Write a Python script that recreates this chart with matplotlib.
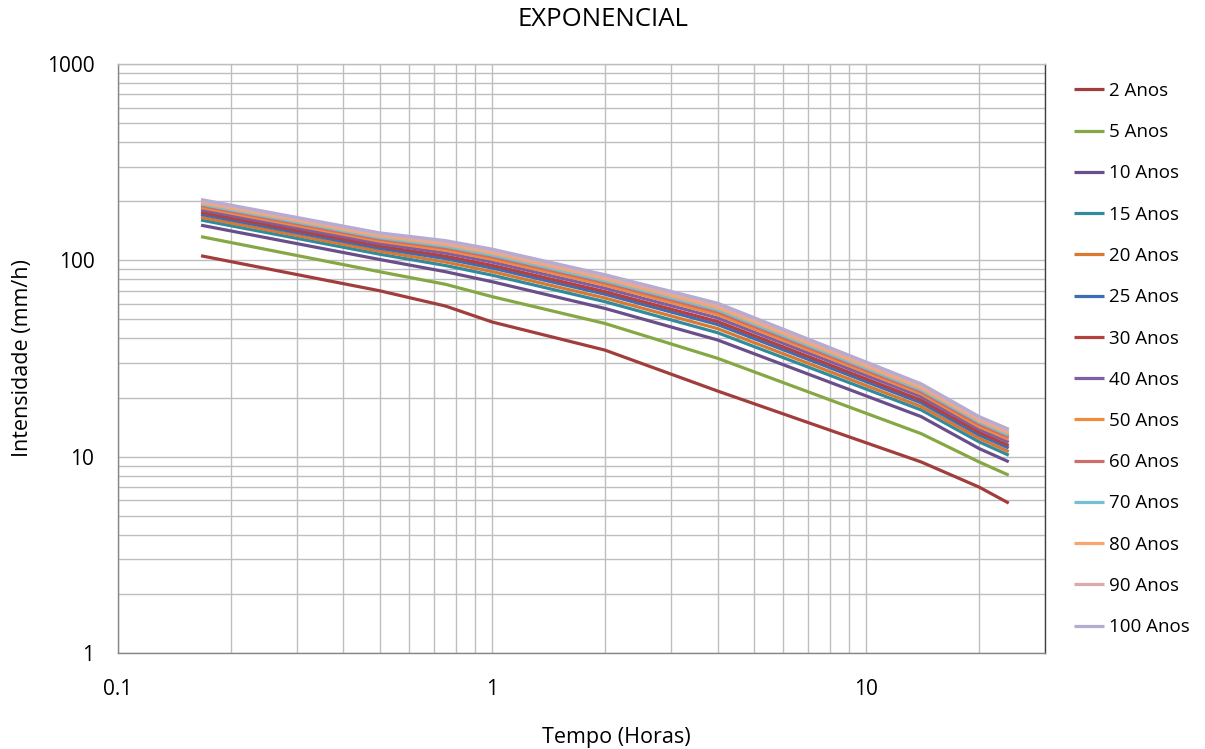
import matplotlib
matplotlib.use("Agg")
import matplotlib.pyplot as plt
from matplotlib.ticker import LogLocator, FixedLocator, FixedFormatter, NullFormatter

plt.rcParams['font.family'] = ['Open Sans', 'DejaVu Sans']

# Duration (hours)
tempo = [1/6, 0.5, 0.75, 1, 2, 4, 14, 20, 24]

labels = ["2 Anos", "5 Anos", "10 Anos", "15 Anos", "20 Anos", "25 Anos", "30 Anos",
          "40 Anos", "50 Anos", "60 Anos", "70 Anos", "80 Anos", "90 Anos", "100 Anos"]

# Intensity (mm/h) per return period
i_2   = [105.5, 70.0, 58.5, 48.5, 34.9, 21.6, 9.4, 7.0, 5.8]
i_5   = [132.0, 87.5, 75.5, 65.3, 47.7, 31.7, 13.1, 9.4, 8.05]
i_10  = [151.0, 101.0, 87.5, 77.8, 56.9, 39.3, 16.0, 11.0, 9.42]
i_15  = [160.4, 107.5, 94.1, 84.0, 61.6, 42.8, 17.3, 11.9, 10.17]
i_20  = [165.8, 111.3, 98.0, 87.6, 64.3, 44.9, 18.0, 12.4, 10.6]
i_25  = [171.4, 115.1, 102.0, 91.3, 67.2, 47.1, 18.8, 12.9, 11.06]
i_30  = [175.5, 118.1, 105.0, 94.2, 69.3, 48.8, 19.4, 13.3, 11.4]
i_40  = [180.9, 121.8, 108.9, 97.9, 72.1, 50.9, 20.2, 13.8, 11.85]
i_50  = [185.9, 125.3, 112.5, 101.3, 74.8, 52.9, 20.9, 14.2, 12.26]
i_60  = [189.8, 128.0, 115.5, 104.0, 76.9, 54.5, 21.4, 14.6, 12.59]
i_70  = [193.3, 130.5, 118.0, 106.4, 78.7, 56.0, 21.9, 15.0, 12.88]
i_80  = [196.8, 132.9, 120.6, 108.9, 80.6, 57.4, 22.4, 15.3, 13.18]
i_90  = [200.4, 135.4, 123.3, 111.4, 82.5, 59.0, 23.0, 15.6, 13.49]
i_100 = [204.0, 138.0, 126.0, 114.0, 84.5, 60.5, 23.5, 16.0, 13.8]

series = [i_2, i_5, i_10, i_15, i_20, i_25, i_30, i_40, i_50, i_60, i_70, i_80, i_90, i_100]

colors = ["#A13D3B", "#86A844", "#6A4E8A", "#318A9E", "#D9782F", "#3D6EB5", "#B5413F",
          "#7E5FA5", "#F08A3C", "#CC6E6C", "#73BFD4", "#F9A66C", "#DDAAAA", "#B6ABD0"]

fig = plt.figure(figsize=(12.05, 7.49), dpi=100)
ax = fig.add_axes([118/1205, 1 - 653/749, (1045 - 118)/1205, (653 - 64)/749])

for vals, lab, col in zip(series, labels, colors):
    ax.plot(tempo, vals, color=col, lw=2.3, label=lab, solid_capstyle='butt', zorder=3)

ax.set_xscale('log')
ax.set_yscale('log')
ax.set_xlim(0.1, 30)
ax.set_ylim(1, 1000)

ax.xaxis.set_major_locator(FixedLocator([0.1, 1, 10]))
ax.xaxis.set_major_formatter(FixedFormatter(["0.1", "1", "10"]))
ax.xaxis.set_minor_locator(LogLocator(base=10, subs=range(2, 10), numticks=20))
ax.xaxis.set_minor_formatter(NullFormatter())
ax.yaxis.set_major_locator(FixedLocator([1, 10, 100, 1000]))
ax.yaxis.set_major_formatter(FixedFormatter(["1", "10", "100", "1000"]))
ax.yaxis.set_minor_locator(LogLocator(base=10, subs=range(2, 10), numticks=20))
ax.yaxis.set_minor_formatter(NullFormatter())

ax.grid(True, which='both', color='#BEBEBE', lw=1.0, zorder=0)
ax.set_axisbelow(True)
ax.tick_params(which='both', length=0, labelsize=15, colors='black')
ax.tick_params(axis='y', pad=17)
ax.tick_params(axis='x', pad=19)
for s in ax.spines.values():
    s.set_color('#868686')
    s.set_linewidth(1.0)
ax.spines['top'].set_color('#BEBEBE')
ax.spines['right'].set_color('#404040')

fig.text(616/1205, 1 - 737/749, "Tempo (Horas)", fontsize=15.5, ha='center', va='center')
ax.set_ylabel("Intensidade (mm/h)", fontsize=15.5, labelpad=10)
fig.text(0.5, 1 - 20/749, "EXPONENCIAL", fontsize=18.5, ha='center', va='center')

leg = ax.legend(loc='upper left', bbox_to_anchor=(1074/1205, 1 - 82/749),
                bbox_transform=fig.transFigure, frameon=False, fontsize=13.5,
                handlelength=1.6, handletextpad=0.25, labelspacing=1.24,
                borderaxespad=0, borderpad=0)

fig.savefig("out.png", dpi=100)
